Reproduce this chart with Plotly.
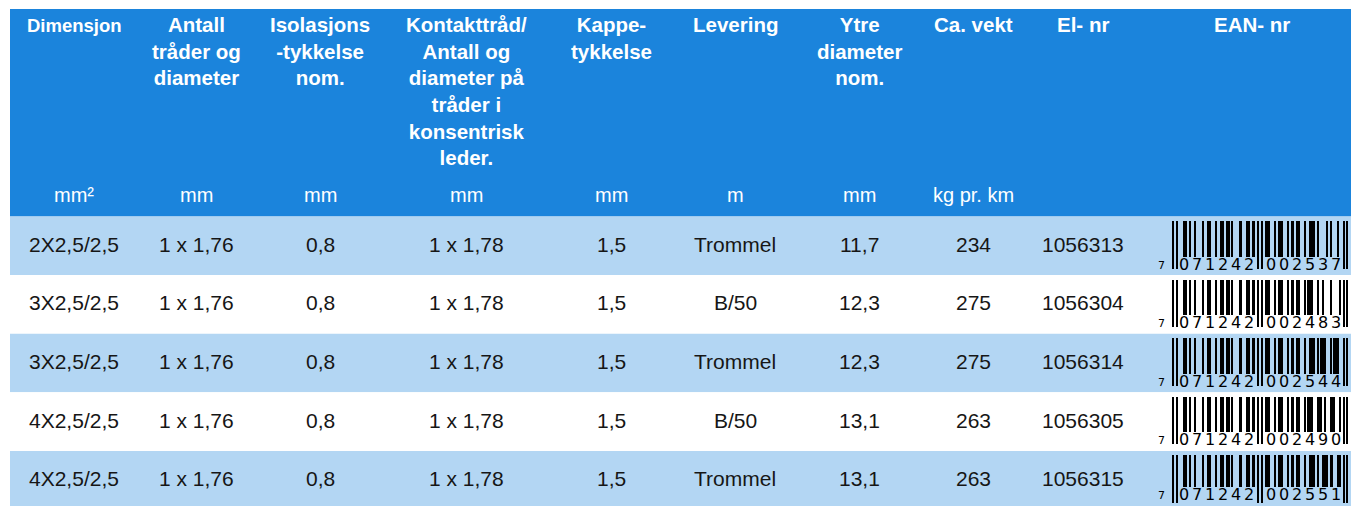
import plotly.graph_objects as go

# ---------------- data ----------------
headers = [
    "Dimensjon",
    "Antall<br>tråder og<br>diameter",
    "Isolasjons<br>-tykkelse<br>nom.",
    "Kontakttråd/<br>Antall og<br>diameter på<br>tråder i<br>konsentrisk<br>leder.",
    "Kappe-<br>tykkelse",
    "Levering",
    "Ytre<br>diameter<br>nom.",
    "Ca. vekt",
    "El- nr",
    "EAN- nr",
]
units = ["mm²", "mm", "mm", "mm", "mm", "m", "mm", "kg pr. km", "", ""]

dimensjon = ["2X2,5/2,5", "3X2,5/2,5", "3X2,5/2,5", "4X2,5/2,5", "4X2,5/2,5"]
antall = ["1 x 1,76"] * 5
isolasjon = ["0,8"] * 5
kontakt = ["1 x 1,78"] * 5
kappe = ["1,5"] * 5
levering = ["Trommel", "B/50", "Trommel", "B/50", "Trommel"]
ytre = ["11,7", "12,3", "12,3", "13,1", "13,1"]
vekt = [234, 275, 275, 263, 263]
el_nr = [1056313, 1056304, 1056314, 1056305, 1056315]
ean_nr = ["7071242002537", "7071242002483", "7071242002544", "7071242002490", "7071242002551"]

# ---------------- layout constants ----------------
W, H = 1351, 506
TABLE_X0, TABLE_X1 = 10, 1351
HEAD_Y0, HEAD_Y1 = 9, 216.5
ROW_H = 58.6
col_x = [74, 196, 320, 466, 611, 735, 859, 973, 1083, 1252]
HEAD_BLUE = "#1b84dc"
ROW_BLUE = "#b3d6f3"
FONT = "Liberation Sans, Arial, Helvetica, sans-serif"

# ---------------- EAN-13 encoding ----------------
L_CODES = ["0001101", "0011001", "0010011", "0111101", "0100011",
           "0110001", "0101111", "0111011", "0110111", "0001011"]
R_CODES = ["1110010", "1100110", "1101100", "1000010", "1011100",
           "1001110", "1010000", "1000100", "1001000", "1110100"]
G_CODES = [c[::-1] for c in R_CODES]
PARITY = ["LLLLLL", "LLGLGG", "LLGGLG", "LLGGGL", "LGLLGG",
          "LGGLLG", "LGGGLL", "LGLGLG", "LGLGGL", "LGGLGL"]


def ean13_modules(code):
    first = int(code[0])
    par = PARITY[first]
    bits = "101"
    for i, ch in enumerate(code[1:7]):
        d = int(ch)
        bits += L_CODES[d] if par[i] == "L" else G_CODES[d]
    bits += "01010"
    for ch in code[7:13]:
        bits += R_CODES[int(ch)]
    bits += "101"
    guard = [0] * 95
    for k in list(range(0, 3)) + list(range(45, 50)) + list(range(92, 95)):
        guard[k] = 1
    return [int(b) for b in bits], guard


BC_X0 = 1172
MOD_W = 1.855

fig = go.Figure()
shapes = []
annotations = []

# header background
shapes.append(dict(type="rect", xref="x", yref="y", x0=TABLE_X0, x1=TABLE_X1,
                   y0=HEAD_Y0, y1=HEAD_Y1, fillcolor=HEAD_BLUE, line_width=0, layer="below"))

# row backgrounds
n_rows = len(dimensjon)
for r in range(n_rows):
    y0 = HEAD_Y1 + r * ROW_H
    y1 = min(y0 + ROW_H, H)
    shapes.append(dict(type="rect", xref="x", yref="y", x0=TABLE_X0, x1=TABLE_X1,
                       y0=y0, y1=y1, fillcolor=ROW_BLUE if r % 2 == 0 else "white",
                       line_width=0, layer="below"))

# header texts
for i, (h, u) in enumerate(zip(headers, units)):
    size = 18.5 if i == 0 else 20.5
    annotations.append(dict(x=col_x[i], y=10.5 if i else 12.5, xref="x", yref="y",
                            text="<b>" + h + "</b>", showarrow=False,
                            xanchor="center", yanchor="top", align="center",
                            font=dict(family=FONT, size=size, color="white")))
    if u:
        annotations.append(dict(x=col_x[i], y=195, xref="x", yref="y", text=u,
                                showarrow=False, xanchor="center", yanchor="middle",
                                font=dict(family=FONT, size=20, color="white")))

# row texts
columns = [dimensjon, antall, isolasjon, kontakt, kappe, levering, ytre, vekt, el_nr]
for r in range(n_rows):
    yc = HEAD_Y1 + r * ROW_H + ROW_H / 2 - 1.5
    for c, col in enumerate(columns):
        annotations.append(dict(x=col_x[c], y=yc, xref="x", yref="y", text=str(col[r]),
                                showarrow=False, xanchor="center", yanchor="middle",
                                font=dict(family=FONT, size=21, color="#161616")))

# barcodes as a heatmap
x_edges = [BC_X0 + k * MOD_W for k in range(96)]
y_edges = []
z = []
for r, code in enumerate(ean_nr):
    top = HEAD_Y1 + r * ROW_H
    bars, guard = ean13_modules(code)
    dy = min(top + 47.5, H - 11.5)          # digit line (kept inside the page)
    shift = dy - (top + 47.5)
    if r > 0:
        z.append([None] * 95)
    y_edges.append(top + 4.5)
    y_edges.append(top + 40 + shift)
    y_edges.append(min(top + 52, H))
    z.append([1 if b else None for b in bars])
    z.append([1 if g and b else None for g, b in zip(guard, bars)])
    # digits
    annotations.append(dict(x=1161.5, y=dy + 1, xref="x", yref="y", text=code[0], showarrow=False,
                            xanchor="center", yanchor="middle",
                            font=dict(family="DejaVu Sans", size=11, color="black")))
    for i in range(6):
        annotations.append(dict(x=BC_X0 + (3 + 7 * i + 3.5) * MOD_W, y=dy, xref="x", yref="y",
                                text=code[1 + i], showarrow=False, xanchor="center",
                                yanchor="middle",
                                font=dict(family="DejaVu Sans", size=16, color="black")))
        annotations.append(dict(x=BC_X0 + (50 + 7 * i + 3.5) * MOD_W, y=dy, xref="x", yref="y",
                                text=code[7 + i], showarrow=False, xanchor="center",
                                yanchor="middle",
                                font=dict(family="DejaVu Sans", size=16, color="black")))

fig.add_trace(go.Heatmap(x=x_edges, y=y_edges, z=z, zmin=0, zmax=1,
                         colorscale=[[0, "black"], [1, "black"]], showscale=False,
                         hoverinfo="skip"))

fig.update_layout(
    width=W, height=H, margin=dict(l=0, r=0, t=0, b=0),
    paper_bgcolor="white", plot_bgcolor="white",
    xaxis=dict(range=[0, W], visible=False, fixedrange=True),
    yaxis=dict(range=[H, 0], visible=False, fixedrange=True),
    shapes=shapes, annotations=annotations, showlegend=False,
)

fig.write_html("out.html", config={"displayModeBar": False},
               post_script="document.body.style.margin='0';document.body.style.overflow='hidden';")
